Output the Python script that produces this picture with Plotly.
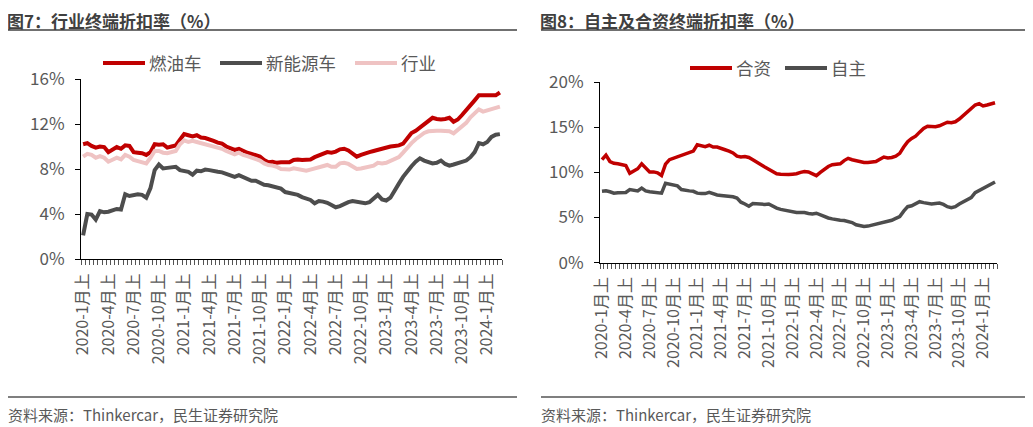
import plotly.graph_objects as go

# half-month periods: 2020-1月上 ... 2024-2月下
periods = [f"{y}-{m}月{h}" for y in range(2020, 2025) for m in range(1, 13) for h in ("上", "下")][:100]
tick_idx = list(range(0, len(periods), 6))
tick_text = [periods[i] for i in tick_idx]

# 图7 (%)
ice = [10.2, 10.3, 10.05, 9.9, 10.0, 9.95, 9.5, 9.7, 9.95, 9.8,
       10.1, 10.05, 9.5, 9.45, 9.4, 9.25, 9.5, 10.2, 10.15, 10.2,
       9.9, 10.0, 10.1, 10.6, 11.1, 11.0, 10.9, 11.0, 10.8, 10.75,
       10.65, 10.5, 10.35, 10.25, 10.0, 9.8, 9.7, 9.8, 9.6, 9.45,
       9.35, 9.25, 9.1, 8.8, 8.6, 8.65, 8.55, 8.6, 8.6, 8.6,
       8.8, 8.85, 8.8, 8.8, 8.85, 9.05, 9.2, 9.35, 9.5, 9.45,
       9.55, 9.75, 9.8, 9.65, 9.4, 9.1, 9.25, 9.4, 9.5, 9.6,
       9.7, 9.8, 9.95, 10.0, 10.05, 10.1, 10.25, 10.8, 11.2, 11.4,
       11.7, 12.0, 12.3, 12.55, 12.45, 12.4, 12.45, 12.55, 12.2, 12.4,
       12.8, 13.2, 13.6, 14.1, 14.55, 14.55, 14.5, 14.5, 14.55, 14.8]
nev = [2.1, 4.0, 3.95, 3.5, 4.25, 4.15, 4.2, 4.35, 4.45, 4.4,
       5.75, 5.6, 5.7, 5.75, 5.7, 5.45, 6.3, 7.9, 8.4, 8.05,
       8.1, 8.15, 8.2, 7.9, 7.85, 7.75, 7.5, 7.85, 7.8, 7.95,
       7.9, 7.8, 7.75, 7.7, 7.55, 7.4, 7.3, 7.45, 7.3, 7.1,
       6.95, 6.95, 6.75, 6.6, 6.55, 6.45, 6.35, 6.25, 5.95, 5.85,
       5.75, 5.7, 5.5, 5.35, 5.25, 4.95, 5.15, 5.1, 5.0, 4.8,
       4.6, 4.7, 4.9, 5.05, 5.15, 5.1, 5.0, 4.95, 5.05, 5.35,
       5.7, 5.3, 5.2, 5.45, 6.0, 6.7, 7.3, 7.85, 8.25, 8.65,
       8.95, 8.75, 8.6, 8.5, 8.55, 8.75, 8.45, 8.3, 8.4, 8.5,
       8.6, 8.75, 9.05, 9.5, 10.3, 10.2, 10.4, 10.85, 11.05, 11.1]
industry = [9.1, 9.35, 9.25, 9.0, 9.15, 9.0, 8.65, 8.85, 9.0, 8.85,
            9.25, 9.1, 8.8, 8.7, 8.6, 8.5, 9.0, 9.6, 9.6, 9.45,
            9.4, 9.5, 9.6, 10.2, 10.55, 10.4, 10.5, 10.4, 10.3, 10.2,
            10.15, 10.05, 9.95, 9.8, 9.6, 9.4, 9.3, 9.45, 9.25, 9.15,
            9.0, 8.9, 8.75, 8.5, 8.35, 8.3, 8.2, 8.0, 7.97, 7.95,
            8.06, 8.0, 7.95, 7.85, 7.95, 8.06, 8.2, 8.3, 8.36, 8.2,
            8.2, 8.5, 8.55, 8.45, 8.2, 8.0, 8.05, 8.15, 8.2, 8.3,
            8.55, 8.5, 8.55, 8.7, 8.85, 9.05, 9.45, 9.9, 10.3, 10.65,
            10.93, 11.2, 11.35, 11.4, 11.4, 11.4, 11.4, 11.35, 11.17, 11.45,
            11.8, 12.1, 12.6, 13.0, 13.3, 13.1, 13.2, 13.3, 13.4, 13.54]

# 图8 (%)
jv = [11.4, 11.9, 11.2, 11.0, 10.95, 10.85, 10.75, 9.9, 10.15, 10.4,
      10.95, 10.5, 10.05, 10.05, 9.95, 9.65, 10.9, 11.4, 11.55, 11.65,
      11.8, 11.95, 12.2, 12.35, 13.05, 12.95, 12.85, 13.0, 12.8, 12.8,
      12.7, 12.5, 12.35, 12.15, 11.8, 11.7, 11.75, 11.65, 11.4, 11.1,
      10.85, 10.6, 10.35, 10.1, 9.85, 9.8, 9.75, 9.75, 9.8, 9.85,
      10.0, 10.1, 10.05, 9.85, 9.63, 10.0, 10.35, 10.65, 10.85, 10.93,
      10.95, 11.3, 11.55, 11.4, 11.3, 11.25, 11.1, 11.1, 11.15, 11.2,
      11.45, 11.7, 11.6, 11.65, 11.8, 12.1, 12.8, 13.4, 13.75, 14.0,
      14.45, 14.85, 15.1, 15.05, 15.05, 15.15, 15.3, 15.55, 15.5, 15.6,
      15.9, 16.3, 16.75, 17.1, 17.45, 17.6, 17.35, 17.45, 17.55, 17.7]
own = [7.9, 7.95, 7.85, 7.7, 7.75, 7.78, 7.78, 8.1, 8.0, 7.95,
       8.26, 7.95, 7.85, 7.8, 7.78, 7.7, 8.8, 8.7, 8.6, 8.5,
       8.1, 8.0, 7.95, 7.9, 7.7, 7.65, 7.65, 7.78, 7.6, 7.5,
       7.45, 7.4, 7.33, 7.3, 7.15, 6.7, 6.5, 6.25, 6.55, 6.5,
       6.5, 6.45, 6.5, 6.25, 6.04, 5.9, 5.8, 5.7, 5.6, 5.56,
       5.56, 5.56, 5.45, 5.4, 5.48, 5.3, 5.1, 4.95, 4.85, 4.74,
       4.7, 4.67, 4.55, 4.44, 4.2, 4.07, 4.0, 4.05, 4.15, 4.25,
       4.44, 4.46, 4.55, 4.7, 4.9, 5.1, 5.7, 6.2, 6.3, 6.5,
       6.75, 6.65, 6.55, 6.5, 6.55, 6.6, 6.45, 6.2, 6.1, 6.2,
       6.5, 6.75, 7.0, 7.2, 7.75, 8.0, 8.2, 8.5, 8.75, 8.93]

left_yticks = [0, 4, 8, 12, 16]
right_yticks = [0, 5, 10, 15, 20]

RED = "#C00000"
GRAY = "#4D4D4D"
PINK = "#EFC3C3"
TXT = "#595959"
FONT = "Noto Sans CJK SC"

# the page body has an 8px margin, so the figure is shifted by that much
OFF = 8
FW, FH = 1033 - OFF, 427 - OFF


def px(v):
    return (v - OFF) / FW


def py(v):
    return 1 - (v - OFF) / FH


x = list(range(len(periods)))
left_series = [("燃油车", ice, RED), ("新能源车", nev, GRAY), ("行业", industry, PINK)]
right_series = [("合资", jv, RED), ("自主", own, GRAY)]

fig = go.Figure()
for name, ys, color in left_series:
    fig.add_trace(go.Scatter(x=x, y=ys, name=name, mode="lines", line=dict(color=color, width=4),
                             xaxis="x", yaxis="y", showlegend=False,
                             customdata=periods, hovertemplate="%{customdata}: %{y:.2f}%"))
for name, ys, color in right_series:
    fig.add_trace(go.Scatter(x=x, y=ys, name=name, mode="lines", line=dict(color=color, width=3.5),
                             xaxis="x2", yaxis="y2", showlegend=False,
                             customdata=periods, hovertemplate="%{customdata}: %{y:.2f}%"))

xcommon = dict(range=[-0.5, len(periods) - 0.5], tickmode="array", tickvals=tick_idx, ticktext=tick_text,
               tickangle=-90, ticks="", showline=True, linecolor="#000", linewidth=1, showgrid=False,
               zeroline=False, automargin=False, tickfont=dict(size=16, color=TXT, family=FONT),
               ticklabelstandoff=7,
               minor=dict(ticks="outside", ticklen=5, tick0=-0.5, dtick=1, tickcolor="#555", tickwidth=1))
ycommon = dict(showline=True, linecolor="#000", linewidth=1, showgrid=False, zeroline=False, automargin=False,
               ticks="outside", ticklen=5, tickcolor="#000",
               tickfont=dict(size=17, color=TXT, family=FONT), ticklabelstandoff=7)

fig.update_layout(
    width=FW, height=FH, margin=dict(l=0, r=0, t=0, b=0),
    paper_bgcolor="white", plot_bgcolor="white",
    font=dict(family=FONT, color=TXT),
    xaxis=dict(domain=[px(81), px(502)], anchor="y", **xcommon),
    yaxis=dict(domain=[py(259), py(79)], anchor="x", range=[0, 16], tickvals=left_yticks,
               ticktext=[f"{v}%" for v in left_yticks], **ycommon),
    xaxis2=dict(domain=[px(600), px(997)], anchor="y2", **xcommon),
    yaxis2=dict(domain=[py(262.7), py(82)], anchor="x2", range=[0, 20], tickvals=right_yticks,
                ticktext=[f"{v}%" for v in right_yticks], **ycommon),
    showlegend=False,
)

# hand-drawn legends (long line samples like the original)
legend_items = [
    ("燃油车", RED, 103, 63), ("新能源车", GRAY, 220, 63), ("行业", PINK, 355, 63),
    ("合资", RED, 690, 68), ("自主", GRAY, 785, 68),
]
for name, color, lx, ly in legend_items:
    fig.add_shape(type="line", xref="paper", yref="paper", x0=px(lx), x1=px(lx + 42), y0=py(ly), y1=py(ly),
                  line=dict(color=color, width=4))
    fig.add_annotation(x=px(lx + 44), y=py(ly), xref="paper", yref="paper", xanchor="left", yanchor="middle",
                       text=name, showarrow=False, font=dict(size=17.5, color=TXT, family=FONT))

# titles, rules and source notes
for x0, x1, title in [(8, 517, "图7：行业终端折扣率（%）"), (541, 1027, "图8：自主及合资终端折扣率（%）")]:
    fig.add_annotation(x=px(x0 - 2), y=py(20.5), xref="paper", yref="paper", xanchor="left", yanchor="middle",
                       text=f"<b>{title}</b>", showarrow=False, borderpad=0,
                       font=dict(size=17, color="#404040", family=FONT))
    fig.add_shape(type="line", xref="paper", yref="paper", x0=px(x0), x1=px(x1), y0=py(30), y1=py(30),
                  line=dict(color="#404040", width=1.5))
    fig.add_shape(type="line", xref="paper", yref="paper", x0=px(x0), x1=px(x1), y0=py(397), y1=py(397),
                  line=dict(color="#000", width=1.2))
    fig.add_annotation(x=px(x0 - 2), y=py(414), xref="paper", yref="paper", xanchor="left", yanchor="middle",
                       text="资料来源：Thinkercar，民生证券研究院", showarrow=False,
                       font=dict(size=15, color=TXT, family=FONT))

fig.write_html("out.html")
